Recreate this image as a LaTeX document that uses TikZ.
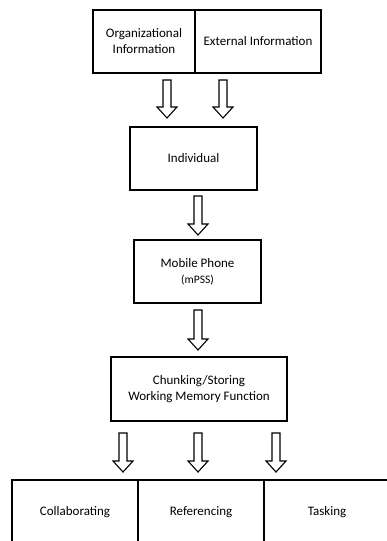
\documentclass[tikz,border=0pt]{standalone}
\usepackage{fontspec}
\setmainfont{Carlito}
\usetikzlibrary{calc}
\tikzset{
  box/.style={draw=black, line width=1.3pt, align=center, inner sep=2pt, font=\fontsize{13}{16}\selectfont},
  barrow/.style={draw=black, line width=1.1pt, fill=white, line join=miter},
}
\newcommand{\blockarrow}[2]{%
  \draw[barrow] let \p1=(#1), \p2=(#2) in
    (\x1-4pt,\y1) -- (\x1+4pt,\y1) -- (\x1+4pt,\y2+11pt) -- (\x1+10pt,\y2+11pt)
    -- (\x1,\y2) -- (\x1-10pt,\y2+11pt) -- (\x1-4pt,\y2+11pt) -- cycle;}
\begin{document}
\begin{tikzpicture}[x=1pt,y=-1pt]
\useasboundingbox (0,0) rectangle (387,541);
\clip (0,0) rectangle (387,541);
% top boxes
\node[box, minimum width=102pt, minimum height=63pt] (org) at (144,41.5) {Organizational\\Information};
\node[box, minimum width=126pt, minimum height=63pt] (ext) at (258,41.5) {External Information};
% individual
\node[box, minimum width=127pt, minimum height=63pt] (ind) at (193.5,158.5) {Individual};
% mobile
\node[box, minimum width=127pt, minimum height=63pt] (mob) at (197.5,271.5) {Mobile Phone\\{\fontsize{11.5}{14}\selectfont(mPSS)}};
% chunking
\node[box, minimum width=176pt, minimum height=64pt] (chk) at (199,389) {Chunking/Storing\\Working Memory Function};
% bottom
\node[box, minimum width=126pt, minimum height=65pt] (col) at (75,512.5) {Collaborating};
\node[box, minimum width=126pt, minimum height=65pt] (ref) at (201,512.5) {Referencing};
\node[box, minimum width=126pt, minimum height=65pt] (tsk) at (327,512.5) {Tasking};
% arrow end points
\coordinate (a1t) at (167,80);  \coordinate (a1b) at (167,118);
\coordinate (a2t) at (223,80);  \coordinate (a2b) at (223,118);
\coordinate (a3t) at (198,196); \coordinate (a3b) at (198,235);
\coordinate (a4t) at (198,310); \coordinate (a4b) at (198,350);
\coordinate (a5t) at (123,433); \coordinate (a5b) at (123,472);
\coordinate (a6t) at (198,433); \coordinate (a6b) at (198,472);
\coordinate (a7t) at (276,433); \coordinate (a7b) at (276,472);
\blockarrow{a1t}{a1b}
\blockarrow{a2t}{a2b}
\blockarrow{a3t}{a3b}
\blockarrow{a4t}{a4b}
\blockarrow{a5t}{a5b}
\blockarrow{a6t}{a6b}
\blockarrow{a7t}{a7b}
\end{tikzpicture}
\end{document}
